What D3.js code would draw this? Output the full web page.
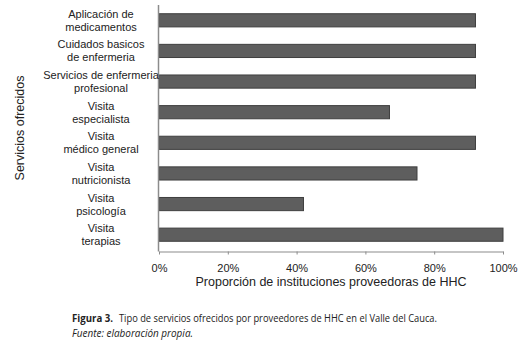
<!DOCTYPE html>
<html><head><meta charset="utf-8">
<script src="https://cdn.jsdelivr.net/npm/d3@7/dist/d3.min.js"></script>
<style>body{margin:0;background:#fff}svg{display:block}</style>
</head><body>
<script>
const categories = [
  ["Aplicación de","medicamentos"],
  ["Cuidados basicos","de enfermeria"],
  ["Servicios de enfermeria","profesional"],
  ["Visita","especialista"],
  ["Visita","médico general"],
  ["Visita","nutricionista"],
  ["Visita","psicología"],
  ["Visita","terapias"]
];
const values = [0.92, 0.92, 0.92, 0.67, 0.92, 0.75, 0.42, 1.00];
const ticks = [0, 0.2, 0.4, 0.6, 0.8, 1.0];

const W = 519, H = 345;
const svg = d3.select("body").append("svg").attr("width", W).attr("height", H);
const font = "Liberation Sans, Arial, sans-serif";

const x = d3.scaleLinear().domain([0, 1]).range([159, 503]);
const y = d3.scaleBand().domain(d3.range(categories.length)).range([5, 250]).paddingInner(0.57).paddingOuter(0.285);

// bars
svg.append("g").selectAll("rect").data(values).join("rect")
  .attr("x", x(0)).attr("y", (d, i) => y(i))
  .attr("width", d => x(d) - x(0)).attr("height", y.bandwidth())
  .attr("fill", "#5e5e5e").attr("stroke", "#3f3f3f").attr("stroke-width", 1);

// axes
const axisColor = "#8c8c8c";
svg.append("line").attr("x1", 158.5).attr("x2", 158.5).attr("y1", 5).attr("y2", 251.5)
  .attr("stroke", axisColor).attr("stroke-width", 1.5);
const xAxis = svg.append("g").attr("transform", "translate(0,251.5)")
  .call(d3.axisBottom(x).tickValues(ticks).tickSize(3).tickSizeOuter(0).tickFormat(d3.format(".0%")));
xAxis.select(".domain").attr("stroke", axisColor).attr("stroke-width", 1.2);
xAxis.selectAll(".tick line").attr("stroke", axisColor);
xAxis.selectAll(".tick text").attr("font-family", font).attr("font-size", 11).attr("fill", "#222")
  .attr("y", 13).attr("dy", "0.71em");

// category labels
const lab = svg.append("g").selectAll("text").data(categories).join("text")
  .attr("text-anchor", "middle").attr("font-family", font).attr("font-size", 11).attr("fill", "#222");
lab.each(function(d, i) {
  const cy = y(i) + y.bandwidth() / 2;
  const t = d3.select(this);
  t.append("tspan").attr("x", 101).attr("y", cy - 6.5 + 4).text(d[0]);
  t.append("tspan").attr("x", 101).attr("y", cy + 6.5 + 4).text(d[1]);
});

// axis titles
svg.append("text").attr("x", 331).attr("y", 286).attr("text-anchor", "middle")
  .attr("font-family", font).attr("font-size", 12.5).attr("fill", "#222")
  .text("Proporción de instituciones proveedoras de HHC");
svg.append("text").attr("transform", "translate(24,128) rotate(-90)").attr("text-anchor", "middle")
  .attr("font-family", font).attr("font-size", 12.5).attr("fill", "#222")
  .text("Servicios ofrecidos");

// caption
const capFont = "Open Sans, sans-serif";
svg.append("text").attr("x", 72).attr("y", 322).attr("font-family", capFont)
  .attr("font-size", 10.5).attr("font-weight", "bold").attr("fill", "#222")
  .attr("textLength", 41).attr("lengthAdjust", "spacingAndGlyphs")
  .text("Figura 3.");
svg.append("text").attr("x", 119).attr("y", 322).attr("font-family", capFont)
  .attr("font-size", 10.5).attr("fill", "#222")
  .attr("textLength", 318).attr("lengthAdjust", "spacingAndGlyphs")
  .text("Tipo de servicios ofrecidos por proveedores de HHC en el Valle del Cauca.");
svg.append("text").attr("x", 72).attr("y", 337).attr("font-family", capFont)
  .attr("font-size", 10.5).attr("font-style", "italic").attr("fill", "#222")
  .attr("textLength", 121).attr("lengthAdjust", "spacingAndGlyphs")
  .text("Fuente: elaboración propia.");
</script>
</body></html>
